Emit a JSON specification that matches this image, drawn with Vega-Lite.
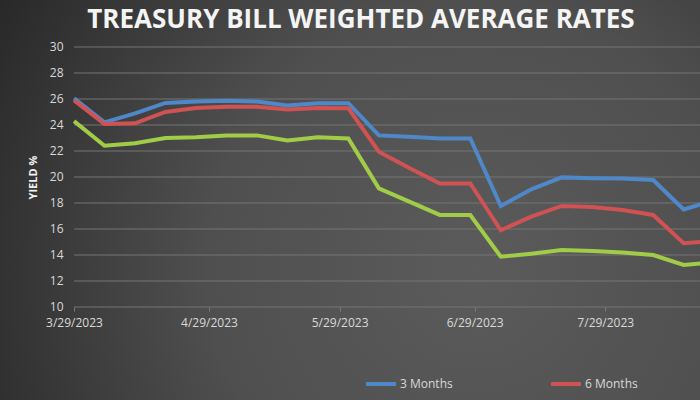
{
  "$schema": "https://vega.github.io/schema/vega-lite/v6.json",
  "width": 700,
  "height": 400,
  "autosize": {"type": "none"},
  "padding": 0,
  "background": "#3c3c3c",
  "title": {
    "text": "TREASURY BILL WEIGHTED AVERAGE RATES",
    "orient": "top",
    "anchor": "middle",
    "frame": "group",
    "offset": -33,
    "dx": 11,
    "font": "Open Sans",
    "fontSize": 26,
    "fontWeight": "bold",
    "color": "#f4f4f4"
  },
  "config": {
    "view": {
      "stroke": null,
      "fill": {
        "gradient": "radial",
        "x1": 0.68, "y1": 0.6, "r1": 0,
        "x2": 0.68, "y2": 0.6, "r2": 0.85,
        "stops": [
          {"offset": 0, "color": "#5b5b5b"},
          {"offset": 0.45, "color": "#4f4f4f"},
          {"offset": 1, "color": "#222222"}
        ]
      }
    },
    "axisX": {
      "orient": "bottom",
      "offset": -93,
      "domain": false,
      "grid": false,
      "ticks": true,
      "tickSize": 4,
      "tickColor": "#7a7a7a",
      "labelPadding": 6,
      "labelColor": "#d9d9d9",
      "labelFont": "Open Sans",
      "labelFontSize": 12,
      "labelFlush": false,
      "labelOverlap": false
    },
    "axisY": {
      "orient": "left",
      "offset": -74,
      "domain": false,
      "grid": false,
      "ticks": false,
      "tickSize": 0,
      "labelPadding": 11,
      "labelColor": "#d9d9d9",
      "labelFont": "Open Sans",
      "labelFontSize": 12,
      "titleFont": "Open Sans",
      "titleFontSize": 11,
      "titleFontWeight": "bold",
      "titleColor": "#f0f0f0",
      "titleX": -36,
      "titleY": 177
    }
  },
  "datasets": {
    "grid": [
      {"rate": 10}, {"rate": 12}, {"rate": 14}, {"rate": 16}, {"rate": 18},
      {"rate": 20}, {"rate": 22}, {"rate": 24}, {"rate": 26}, {"rate": 28}, {"rate": 30}
    ],
    "rates": [
      {"date": "2023-03-29", "term": "3 Months", "rate": 26.05},
      {"date": "2023-04-05", "term": "3 Months", "rate": 24.2},
      {"date": "2023-04-12", "term": "3 Months", "rate": 24.9},
      {"date": "2023-04-19", "term": "3 Months", "rate": 25.7},
      {"date": "2023-04-26", "term": "3 Months", "rate": 25.8},
      {"date": "2023-05-03", "term": "3 Months", "rate": 25.87},
      {"date": "2023-05-10", "term": "3 Months", "rate": 25.8},
      {"date": "2023-05-17", "term": "3 Months", "rate": 25.5},
      {"date": "2023-05-24", "term": "3 Months", "rate": 25.67},
      {"date": "2023-05-31", "term": "3 Months", "rate": 25.68},
      {"date": "2023-06-07", "term": "3 Months", "rate": 23.2},
      {"date": "2023-06-14", "term": "3 Months", "rate": 23.1},
      {"date": "2023-06-21", "term": "3 Months", "rate": 22.97},
      {"date": "2023-06-28", "term": "3 Months", "rate": 22.97},
      {"date": "2023-07-05", "term": "3 Months", "rate": 17.77},
      {"date": "2023-07-12", "term": "3 Months", "rate": 19.05},
      {"date": "2023-07-19", "term": "3 Months", "rate": 19.97},
      {"date": "2023-07-26", "term": "3 Months", "rate": 19.9},
      {"date": "2023-08-02", "term": "3 Months", "rate": 19.88},
      {"date": "2023-08-09", "term": "3 Months", "rate": 19.77},
      {"date": "2023-08-16", "term": "3 Months", "rate": 17.5},
      {"date": "2023-08-23", "term": "3 Months", "rate": 18.2},
      {"date": "2023-03-29", "term": "6 Months", "rate": 25.9},
      {"date": "2023-04-05", "term": "6 Months", "rate": 24.08},
      {"date": "2023-04-12", "term": "6 Months", "rate": 24.13},
      {"date": "2023-04-19", "term": "6 Months", "rate": 25.0},
      {"date": "2023-04-26", "term": "6 Months", "rate": 25.3},
      {"date": "2023-05-03", "term": "6 Months", "rate": 25.4},
      {"date": "2023-05-10", "term": "6 Months", "rate": 25.4},
      {"date": "2023-05-17", "term": "6 Months", "rate": 25.2},
      {"date": "2023-05-24", "term": "6 Months", "rate": 25.3},
      {"date": "2023-05-31", "term": "6 Months", "rate": 25.28},
      {"date": "2023-06-07", "term": "6 Months", "rate": 21.95},
      {"date": "2023-06-14", "term": "6 Months", "rate": 20.7},
      {"date": "2023-06-21", "term": "6 Months", "rate": 19.5},
      {"date": "2023-06-28", "term": "6 Months", "rate": 19.5},
      {"date": "2023-07-05", "term": "6 Months", "rate": 15.9},
      {"date": "2023-07-12", "term": "6 Months", "rate": 16.95},
      {"date": "2023-07-19", "term": "6 Months", "rate": 17.77},
      {"date": "2023-07-26", "term": "6 Months", "rate": 17.7},
      {"date": "2023-08-02", "term": "6 Months", "rate": 17.46},
      {"date": "2023-08-09", "term": "6 Months", "rate": 17.08},
      {"date": "2023-08-16", "term": "6 Months", "rate": 14.9},
      {"date": "2023-08-23", "term": "6 Months", "rate": 15.1},
      {"date": "2023-03-29", "term": "12 Months", "rate": 24.3},
      {"date": "2023-04-05", "term": "12 Months", "rate": 22.4},
      {"date": "2023-04-12", "term": "12 Months", "rate": 22.6},
      {"date": "2023-04-19", "term": "12 Months", "rate": 23.0},
      {"date": "2023-04-26", "term": "12 Months", "rate": 23.05},
      {"date": "2023-05-03", "term": "12 Months", "rate": 23.2},
      {"date": "2023-05-10", "term": "12 Months", "rate": 23.2},
      {"date": "2023-05-17", "term": "12 Months", "rate": 22.8},
      {"date": "2023-05-24", "term": "12 Months", "rate": 23.05},
      {"date": "2023-05-31", "term": "12 Months", "rate": 22.97},
      {"date": "2023-06-07", "term": "12 Months", "rate": 19.13},
      {"date": "2023-06-14", "term": "12 Months", "rate": 18.1},
      {"date": "2023-06-21", "term": "12 Months", "rate": 17.08},
      {"date": "2023-06-28", "term": "12 Months", "rate": 17.08},
      {"date": "2023-07-05", "term": "12 Months", "rate": 13.87},
      {"date": "2023-07-12", "term": "12 Months", "rate": 14.1},
      {"date": "2023-07-19", "term": "12 Months", "rate": 14.38},
      {"date": "2023-07-26", "term": "12 Months", "rate": 14.3},
      {"date": "2023-08-02", "term": "12 Months", "rate": 14.2},
      {"date": "2023-08-09", "term": "12 Months", "rate": 14.0},
      {"date": "2023-08-16", "term": "12 Months", "rate": 13.23},
      {"date": "2023-08-23", "term": "12 Months", "rate": 13.45}
    ]
  },
  "layer": [
    {
      "data": {"name": "grid"},
      "mark": {"type": "rule", "clip": true, "color": "#757575", "strokeWidth": 1},
      "encoding": {
        "y": {
          "field": "rate",
          "type": "quantitative",
          "title": "YIELD %",
          "scale": {"domain": [2.846, 33.615], "nice": false, "zero": false},
          "axis": {"values": [10, 12, 14, 16, 18, 20, 22, 24, 26, 28, 30]}
        },
        "x": {
          "datum": {"year": 2023, "month": 3, "date": 29, "utc": true},
          "type": "temporal",
          "title": null,
          "axis": {
            "values": [
              {"year": 2023, "month": 3, "date": 29, "utc": true},
              {"year": 2023, "month": 4, "date": 29, "utc": true},
              {"year": 2023, "month": 5, "date": 29, "utc": true},
              {"year": 2023, "month": 6, "date": 29, "utc": true},
              {"year": 2023, "month": 7, "date": 29, "utc": true}
            ],
            "labelExpr": "utcFormat(datum.value, '%-m/%-d/%Y')"
          }
        },
        "x2": {"datum": {"year": 2023, "month": 9, "date": 5, "utc": true}}
      }
    },
    {
      "data": {"name": "rates"},
      "mark": {"type": "line", "clip": true, "strokeWidth": 4, "strokeJoin": "miter"},
      "encoding": {
        "x": {
          "field": "date",
          "type": "temporal",
          "title": null,
          "scale": {
            "type": "utc",
            "domain": [
              {"year": 2023, "month": 3, "date": 12, "utc": true},
              {"year": 2023, "month": 8, "date": 19, "hours": 18, "utc": true}
            ],
            "nice": false
          },
          "axis": {
            "values": [
              {"year": 2023, "month": 3, "date": 29, "utc": true},
              {"year": 2023, "month": 4, "date": 29, "utc": true},
              {"year": 2023, "month": 5, "date": 29, "utc": true},
              {"year": 2023, "month": 6, "date": 29, "utc": true},
              {"year": 2023, "month": 7, "date": 29, "utc": true}
            ],
            "labelExpr": "utcFormat(datum.value, '%-m/%-d/%Y')"
          }
        },
        "y": {
          "field": "rate",
          "type": "quantitative",
          "title": "YIELD %",
          "axis": {"values": [10, 12, 14, 16, 18, 20, 22, 24, 26, 28, 30]}
        },
        "color": {
          "field": "term",
          "type": "nominal",
          "scale": {
            "domain": ["3 Months", "6 Months", "12 Months"],
            "range": ["#4f88c8", "#d05252", "#a0cc48"]
          },
          "legend": {
            "orient": "none",
            "legendX": 364,
            "legendY": 367,
            "direction": "horizontal",
            "title": null,
            "padding": 0,
            "symbolType": "stroke",
            "symbolSize": 900,
            "symbolStrokeWidth": 4,
            "labelOffset": 2,
            "labelColor": "#d9d9d9",
            "labelFont": "Open Sans",
            "labelFontSize": 12,
            "columnPadding": 90,
            "gridAlign": "each"
          }
        }
      }
    }
  ]
}
